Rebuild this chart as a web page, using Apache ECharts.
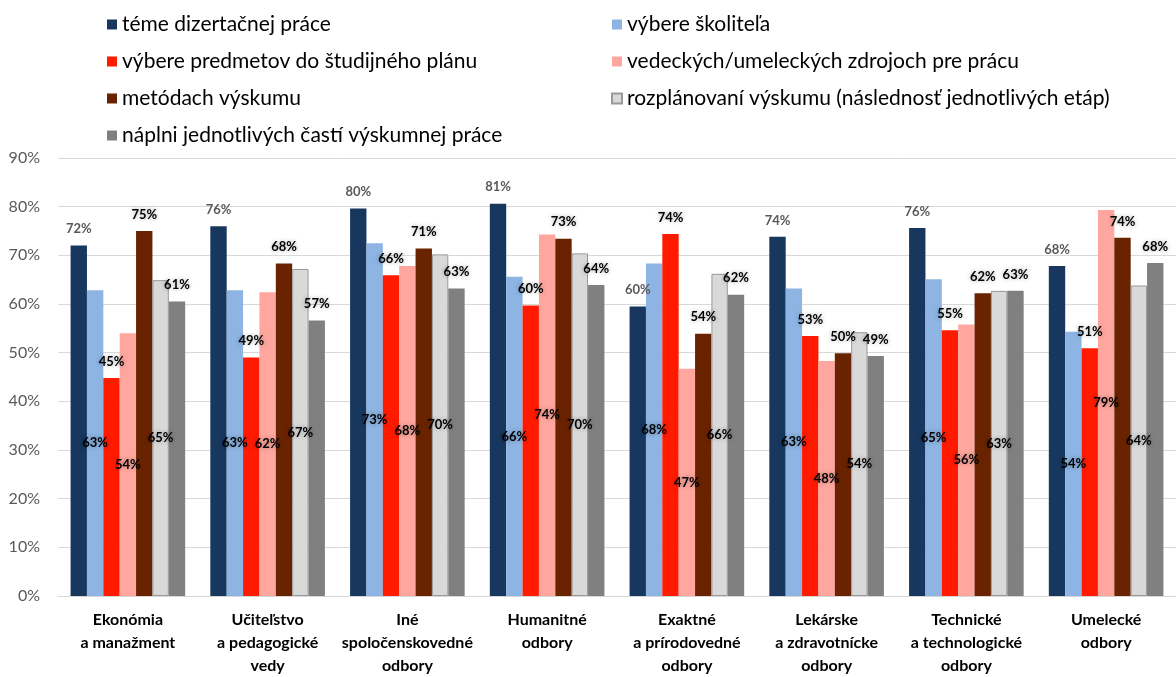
<!DOCTYPE html>
<html><head><meta charset="utf-8">
<script src="https://cdn.jsdelivr.net/npm/echarts@6/dist/echarts.min.js"></script>
<style>html,body{margin:0;padding:0;background:#fff}#c{width:1176px;height:677px}</style>
</head><body><div id="c"></div>
<script>
var categories = ['Ekonómia\na manažment','Učiteľstvo\na pedagogické\nvedy','Iné\nspoločenskovedné\nodbory','Humanitné\nodbory','Exaktné\na prírodovedné\nodbory','Lekárske\na zdravotnícke\nodbory','Technické\na technologické\nodbory','Umelecké\nodbory'];
var seriesNames = ['téme dizertačnej práce','výbere školiteľa','výbere predmetov do študijného plánu','vedeckých/umeleckých zdrojoch pre prácu','metódach výskumu','rozplánovaní výskumu (následnosť jednotlivých etáp)','náplni jednotlivých častí výskumnej práce'];
var temeDizertacnej   = [72, 76, 79.6, 80.6, 59.5, 73.8, 75.6, 67.8];
var vybereSkolitela   = [62.8, 62.8, 72.5, 65.6, 68.3, 63.2, 65.1, 54.3];
var vyberePredmetov   = [44.8, 49, 65.9, 59.7, 74.4, 53.4, 54.6, 50.9];
var vedeckychZdrojoch = [54, 62.4, 67.8, 74.3, 46.7, 48.3, 55.8, 79.3];
var metodachVyskumu   = [75, 68.3, 71.4, 73.4, 53.9, 49.9, 62.2, 73.6];
var rozplanovani      = [64.9, 67.2, 70.2, 70.4, 66.2, 54.2, 62.7, 63.8];
var napleniCasti      = [60.5, 56.6, 63.2, 63.9, 61.9, 49.3, 62.7, 68.4];
var yTicks = [0,10,20,30,40,50,60,70,80,90];

var values = [temeDizertacnej, vybereSkolitela, vyberePredmetov, vedeckychZdrojoch, metodachVyskumu, rozplanovani, napleniCasti];
var colors = ['#17375E','#8DB4E2','#FF1A00','#FFA79F','#6A2300','#D9D9D9','#808080'];
var FONT = 'Lato';

function labelFor(i){
  var base = {show:true, fontFamily:FONT, fontWeight:'bold', fontSize:13,
    formatter:function(p){return Math.round(p.value)+'%';}};
  if(i===0){ base.position='top'; base.distance=10; base.color='#595959'; }
  else if(i===1||i===3||i===5){ base.position='inside'; base.color='#000';
    base.textShadowColor='rgba(0,0,0,0.35)'; base.textShadowBlur=4; }
  else { base.position='top'; base.distance=10; base.color='#000';
    base.textShadowColor='rgba(0,0,0,0.35)'; base.textShadowBlur=4; }
  return base;
}

var series = values.map(function(v,i){
  return {name:seriesNames[i], type:'bar', data:v, barGap:'0%', barCategoryGap:'18%',
    itemStyle:{color:colors[i], borderColor: i===5?'#999':null, borderWidth: i===5?1:0},
    label:labelFor(i), emphasis:{disabled:true}, animation:false};
});

var legendText = {fontFamily:FONT, fontSize:21, color:'#000'};
var chart = echarts.init(document.getElementById('c'));
chart.setOption({
  animation:false,
  legend:[
    {data:[seriesNames[0],seriesNames[2],seriesNames[4],seriesNames[6]], orient:'vertical', left:102, top:9,
     itemWidth:10, itemHeight:10, itemGap:16, icon:'rect', textStyle:legendText},
    {data:[seriesNames[1],seriesNames[3],seriesNames[5]], orient:'vertical', left:606, top:9,
     itemWidth:10, itemHeight:10, itemGap:16, icon:'rect', textStyle:legendText}
  ],
  grid:{left:58, top:158, width:1128, height:443, containLabel:false},
  xAxis:{type:'category', data:categories,
    axisLine:{lineStyle:{color:'#d9d9d9'}}, axisTick:{show:false},
    axisLabel:{fontFamily:FONT, fontWeight:'bold', fontSize:16, color:'#000', lineHeight:23, margin:12, interval:0}},
  yAxis:{type:'value', min:0, max:90, interval:10,
    axisLine:{show:false}, axisTick:{show:false},
    splitLine:{lineStyle:{color:'#d9d9d9'}},
    axisLabel:{fontFamily:FONT, fontSize:16, color:'#595959', margin:18,
      formatter:function(v){return yTicks.indexOf(v)>=0 ? v+'%' : '';}}},
  series:series
});
</script></body></html>
